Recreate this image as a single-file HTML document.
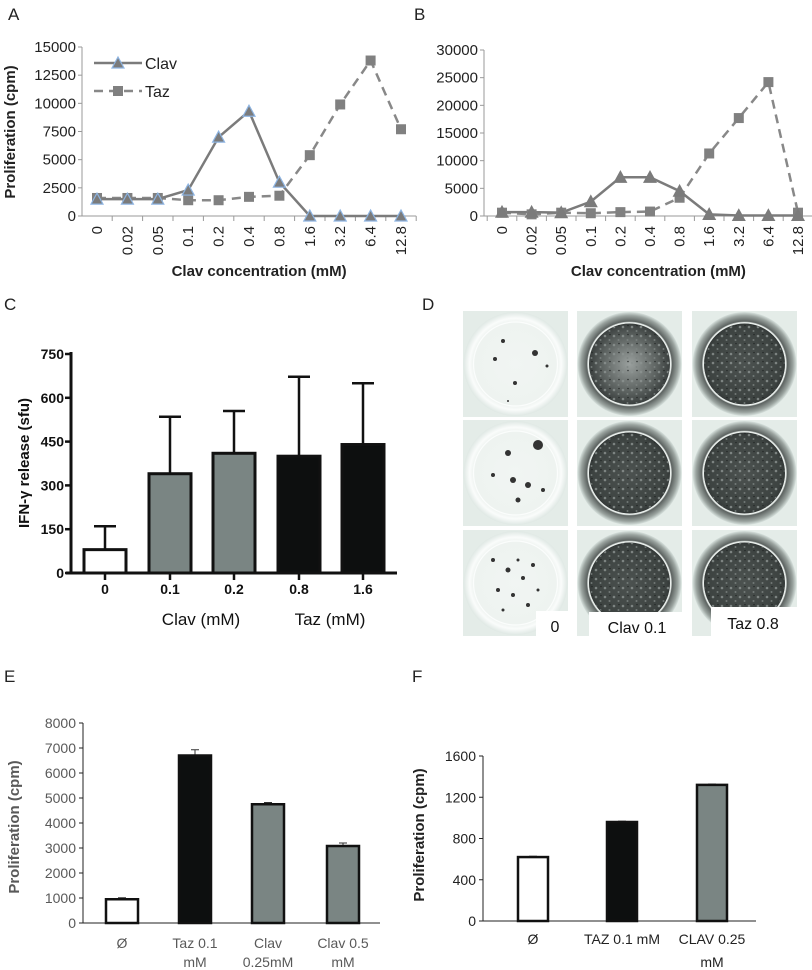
<!DOCTYPE html>
<html><head><meta charset="utf-8"><style>
html,body{margin:0;padding:0;background:#fff;}
svg{display:block;font-family:"Liberation Sans",sans-serif;}
</style></head><body>
<svg id="fig" width="812" height="970" viewBox="0 0 812 970" xmlns="http://www.w3.org/2000/svg">
<defs>
<radialGradient id="wellLight" cx="50%" cy="50%" r="50%">
<stop offset="0%" stop-color="#f1f5f3"/><stop offset="80%" stop-color="#eef3f0"/><stop offset="88%" stop-color="#fafcfb"/><stop offset="100%" stop-color="#dfe8e4"/>
</radialGradient>
<radialGradient id="wellDark" cx="50%" cy="50%" r="50%">
<stop offset="0%" stop-color="#4c5250"/><stop offset="70%" stop-color="#3d4341"/><stop offset="78%" stop-color="#333837"/><stop offset="80%" stop-color="#e8eeeb"/><stop offset="82%" stop-color="#5b615f"/><stop offset="93%" stop-color="#9aa39f"/><stop offset="100%" stop-color="#d8e2de"/>
</radialGradient>
<radialGradient id="wellMid" cx="50%" cy="50%" r="50%">
<stop offset="0%" stop-color="#9aa09e"/><stop offset="55%" stop-color="#5a605e"/><stop offset="78%" stop-color="#3a3f3e"/><stop offset="80%" stop-color="#e8eeeb"/><stop offset="82%" stop-color="#5b615f"/><stop offset="93%" stop-color="#9aa39f"/><stop offset="100%" stop-color="#d8e2de"/>
</radialGradient>
<pattern id="speckle" width="9" height="9" patternUnits="userSpaceOnUse">
<circle cx="2" cy="3" r="1.3" fill="#8c9391"/><circle cx="6.5" cy="7" r="1" fill="#7d8482"/><circle cx="7" cy="1.5" r="0.8" fill="#1e2221"/>
</pattern>
</defs>
<g id="layer"></g>
</svg>
<script>
// ---------- Data ----------
const lineCats = ["0","0.02","0.05","0.1","0.2","0.4","0.8","1.6","3.2","6.4","12.8"];
const aClav = [1500,1500,1500,2300,7000,9300,3000,0,0,0,0];
const aTaz  = [1600,1600,1600,1400,1400,1700,1800,5400,9900,13800,7700];
const aTicks = [0,2500,5000,7500,10000,12500,15000];
const bClav = [700,700,600,2600,7000,7000,4500,300,100,100,100];
const bTaz  = [600,300,600,500,700,800,3300,11300,17700,24200,600];
const bTicks = [0,5000,10000,15000,20000,25000,30000];
const cCats = ["0","0.1","0.2","0.8","1.6"];
const cVals = [80,340,410,400,440];
const cErrs = [80,195,145,272,210];
const cTicks = [0,150,300,450,600,750];
const eCats = [["Ø",""],["Taz 0.1","mM"],["Clav","0.25mM"],["Clav 0.5","mM"]];
const eVals = [950,6700,4750,3080];
const eErrs = [60,230,70,120];
const eTicks = [0,1000,2000,3000,4000,5000,6000,7000,8000];
const fCats = [["Ø",""],["TAZ 0.1 mM",""],["CLAV 0.25","mM"]];
const fVals = [620,960,1320];
const fErrs = [8,8,8];
const fTicks = [0,400,800,1200,1600];

const NS="http://www.w3.org/2000/svg";
const L=document.getElementById('layer');
function mk(tag,attrs,parent){const e=document.createElementNS(NS,tag);for(const k in attrs)e.setAttribute(k,attrs[k]);(parent||L).appendChild(e);return e;}
function txt(s,attrs,parent){const e=mk('text',attrs,parent);e.textContent=s;return e;}
function lin(d0,d1,r0,r1){return v=>r0+(v-d0)/(d1-d0)*(r1-r0);}

// ---------- Panel labels ----------
[["A",8,20],["B",414,20],["C",4,310],["D",422,310],["E",4,682],["F",412,682]].forEach(p=>{
  const t=txt(p[0],{x:p[1],y:p[2],'font-size':17,fill:'#222'});
  
  
});

// ---------- Line charts A & B ----------
function lineChart(id,ax,x0,xStep,yTop,yMax,ticks,clav,taz,triStroke){
  const g=mk('g',{});
  
  
  const y=lin(0,yMax,216,yTop);
  const x=i=>x0+i*xStep;
  const axEnd=x(lineCats.length-1)+xStep/2;
  mk('line',{x1:ax,y1:yTop,x2:ax,y2:216,stroke:'#999','stroke-width':1},g);
  mk('line',{x1:ax-4,y1:216,x2:axEnd,y2:216,stroke:'#999','stroke-width':1},g);
  ticks.forEach(t=>{
    mk('line',{x1:ax-4,y1:y(t),x2:ax,y2:y(t),stroke:'#999'},g);
    const tl=txt(String(t),{x:ax-6,y:y(t)+5,'text-anchor':'end','font-size':15,fill:'#222'},g);
    
    
  });
  for(let i=0;i<=lineCats.length;i++){const xx=x(i)-xStep/2; if(xx>ax) mk('line',{x1:xx,y1:216,x2:xx,y2:221,stroke:'#999'},g);}
  lineCats.forEach((c,i)=>{
    const tl=txt(c,{x:0,y:0,'text-anchor':'end','font-size':15,fill:'#222',transform:`translate(${x(i)+5},226) rotate(-90)`},g);
    
    
  });
  const tp=taz.map((v,i)=>x(i)+','+y(v)).join(' ');
  const tline=mk('polyline',{points:tp,fill:'none',stroke:'#888','stroke-width':2.5,'stroke-dasharray':'9,6'},g);
  
  
  const cp=clav.map((v,i)=>x(i)+','+y(v)).join(' ');
  const cline=mk('polyline',{points:cp,fill:'none',stroke:'#7b7b7b','stroke-width':2.5},g);
  
  
  taz.forEach((v,i)=>{
    const r=mk('rect',{x:x(i)-5,y:y(v)-5,width:10,height:10,fill:'#808080'},g);
    
    
  });
  clav.forEach((v,i)=>{
    const cx=x(i),cy=y(v);
    const p=mk('polygon',{points:`${cx},${cy-6} ${cx-6},${cy+5} ${cx+6},${cy+5}`,fill:'#7b7b7b',stroke:triStroke,'stroke-width':1.2},g);
    
    
  });
  const xt=txt('Clav concentration  (mM)',{x:(ax+axEnd)/2+10,y:276,'text-anchor':'middle','font-size':15,'font-weight':'bold',fill:'#222'},g);
  
  
  return g;
}
lineChart('a',82,97,30.4,47,15000,aTicks,aClav,aTaz,'#8db4e2');
lineChart('b',484,502,29.6,50,30000,bTicks,bClav,bTaz,'#7b7b7b');
const ayt=txt('Proliferation (cpm)',{x:0,y:0,'text-anchor':'middle','font-size':15,'font-weight':'bold',fill:'#222',transform:'translate(15,132) rotate(-90)'});


// legend A
const lg=mk('g',{});


mk('line',{x1:94,y1:63,x2:142,y2:63,stroke:'#7b7b7b','stroke-width':2.5},lg);
mk('polygon',{points:'118,57 112,68 124,68',fill:'#7b7b7b',stroke:'#8db4e2','stroke-width':1.2},lg);
txt('Clav',{x:145,y:69,'font-size':16,fill:'#222'},lg);
mk('line',{x1:94,y1:91,x2:142,y2:91,stroke:'#888','stroke-width':2.5,'stroke-dasharray':'9,6'},lg);
mk('rect',{x:113,y:86,width:10,height:10,fill:'#808080'},lg);
txt('Taz',{x:145,y:97,'font-size':16,fill:'#222'},lg);

// ---------- Panel C ----------
(function(){
  const g=mk('g',{});
  
  
  const y=lin(0,750,573,354);
  const cx=[105,170,234,299,363];
  const fills=['#fff','#7a8583','#7a8583','#0d0f0f','#0d0f0f'];
  cCats.forEach((c,i)=>{
    const top=y(cVals[i]+cErrs[i]);
    mk('line',{x1:cx[i],y1:top,x2:cx[i],y2:y(cVals[i]),stroke:'#111','stroke-width':2.5},g);
    mk('line',{x1:cx[i]-11,y1:top,x2:cx[i]+11,y2:top,stroke:'#111','stroke-width':2.5},g);
    const b=mk('rect',{x:cx[i]-21,y:y(cVals[i]),width:42,height:573-y(cVals[i]),fill:fills[i],stroke:'#111','stroke-width':3},g);
    
    
    mk('line',{x1:cx[i],y1:573,x2:cx[i],y2:580,stroke:'#111','stroke-width':2.5},g);
    const tl=txt(c,{x:cx[i],y:594,'text-anchor':'middle','font-size':14,'font-weight':'bold',fill:'#111'},g);
    
    
  });
  mk('line',{x1:71,y1:352,x2:71,y2:574,stroke:'#111','stroke-width':3},g);
  mk('line',{x1:66,y1:573,x2:397,y2:573,stroke:'#111','stroke-width':3},g);
  cTicks.forEach(t=>{
    mk('line',{x1:65,y1:y(t),x2:71,y2:y(t),stroke:'#111','stroke-width':2.5},g);
    const tl=txt(String(t),{x:64,y:y(t)+5,'text-anchor':'end','font-size':14,'font-weight':'bold',fill:'#111'},g);
    
    
  });
  const yt=txt('IFN-γ release (sfu)',{x:0,y:0,'text-anchor':'middle','font-size':15,'font-weight':'bold',fill:'#111',transform:'translate(29,463) rotate(-90)'},g);
  
  
  const g1=txt('Clav (mM)',{x:201,y:625,'text-anchor':'middle','font-size':17,fill:'#111'},g);
  
  
  const g2=txt('Taz (mM)',{x:330,y:625,'text-anchor':'middle','font-size':17,fill:'#111'},g);
  
  
})();

// ---------- Panel D (well images) ----------
(function(){
  const g=mk('g',{});
  
  
  const cols=[463,577,692], rows=[311,420,530], w=105, h=106;
  const grads=[['wellLight','wellMid','wellDark'],['wellLight','wellDark','wellDark'],['wellLight','wellDark','wellDark']];
  const dots=[[ [40,30,2],[32,48,2],[72,42,3],[52,72,2],[84,55,1.5],[45,90,1] ],
              [ [75,25,5],[45,33,3],[50,60,3],[65,65,3],[55,80,2.5],[30,55,2],[80,70,2] ],
              [ [30,30,2],[45,40,2.5],[60,48,2],[35,60,2],[50,65,2],[70,35,2],[65,75,2],[40,80,1.5],[75,60,1.5],[55,30,1.5]] ];
  rows.forEach((ry,r)=>cols.forEach((cx,c)=>{
    mk('rect',{x:cx,y:ry,width:w,height:h,fill:'#e4ece8'},g);
    const circ=mk('circle',{cx:cx+w/2,cy:ry+h/2,r:52,fill:`url(#${grads[r][c]})`},g);
    
    
    if(c===0){
      mk('circle',{cx:cx+w/2,cy:ry+h/2,r:42,fill:'none',stroke:'#fbfdfc','stroke-width':1.2},g);
      dots[r].forEach(d=>mk('circle',{cx:cx+d[0],cy:ry+d[1],r:d[2],fill:'#333'},g));
    } else {
      mk('circle',{cx:cx+w/2,cy:ry+h/2,r:40,fill:'url(#speckle)',opacity:0.8},g);
      mk('circle',{cx:cx+w/2,cy:ry+h/2,r:41,fill:'none',stroke:'#eef3f0','stroke-width':1},g);
    }
  }));
  mk('rect',{x:536,y:611,width:32,height:26,fill:'#fff'},g);
  mk('rect',{x:589,y:612,width:93,height:25,fill:'#fff'},g);
  mk('rect',{x:711,y:607,width:86,height:30,fill:'#fff'},g);
  [['0',555,632],['Clav 0.1',637,633],['Taz 0.8',753,629]].forEach(l=>{
    const t=txt(l[0],{x:l[1],y:l[2],'text-anchor':'middle','font-size':16,fill:'#111'},g);
    
    
  });
})();

// ---------- Bar charts E & F ----------
function barChart(id,ax,y0,yTop,yMax,ticks,cats,vals,errs,cx,bw,axEnd,fills,tickColor,titleX,titleY,line1Y,line2Y){
  const g=mk('g',{});
  
  
  const y=lin(0,yMax,y0,yTop);
  mk('line',{x1:ax,y1:yTop,x2:ax,y2:y0,stroke:'#222','stroke-width':1},g);
  mk('line',{x1:ax-4,y1:y0,x2:axEnd,y2:y0,stroke:'#222','stroke-width':1},g);
  ticks.forEach(t=>{
    mk('line',{x1:ax-4,y1:y(t),x2:ax,y2:y(t),stroke:'#222'},g);
    const tl=txt(String(t),{x:ax-7,y:y(t)+5,'text-anchor':'end','font-size':14,fill:tickColor},g);
    
    
  });
  cats.forEach((c,i)=>{
    const top=y(vals[i]+errs[i]);
    mk('line',{x1:cx[i],y1:top,x2:cx[i],y2:y(vals[i]),stroke:'#333','stroke-width':1},g);
    mk('line',{x1:cx[i]-4,y1:top,x2:cx[i]+4,y2:top,stroke:'#333','stroke-width':1},g);
    const b=mk('rect',{x:cx[i]-bw/2,y:y(vals[i]),width:bw,height:y0-y(vals[i]),fill:fills[i],stroke:'#111','stroke-width':2.5},g);
    
    
    const t1=txt(c[0],{x:cx[i],y:line1Y,'text-anchor':'middle','font-size':14,fill:tickColor},g);
    
    
    if(c[1]){
      const t2=txt(c[1],{x:cx[i],y:line2Y,'text-anchor':'middle','font-size':14,fill:tickColor},g);
      
      
    }
  });
  const yt=txt('Proliferation (cpm)',{x:0,y:0,'text-anchor':'middle','font-size':15,'font-weight':'bold',fill:tickColor,transform:`translate(${titleX},${titleY}) rotate(-90)`},g);
  
  
}
barChart('e',83,923,723,8000,eTicks,eCats,eVals,eErrs,[122,195,268,343],32,380,['#fff','#0d0f0f','#7a8583','#7a8583'],'#595959',19,827,948,967);
barChart('f',483,921,756,1600,fTicks,fCats,fVals,fErrs,[533,622,712],30,756,['#fff','#0d0f0f','#7a8583'],'#222',424,835,944,967);
</script>
</body></html>
